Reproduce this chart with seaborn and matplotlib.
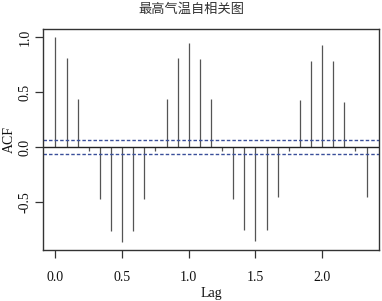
import numpy as np
import matplotlib
matplotlib.use("Agg")
import matplotlib.pyplot as plt
import seaborn as sns

# ACF of daily max temperature (monthly series, frequency 12)
LAG_MONTHS = list(range(29))
ACF_VALUES = [1.00, 0.81, 0.44, -0.03, -0.47, -0.76, -0.86, -0.76, -0.47, -0.03,
              0.44, 0.81, 0.945, 0.80, 0.44, -0.03, -0.47, -0.75, -0.85, -0.75,
              -0.455, -0.03, 0.43, 0.785, 0.93, 0.785, 0.415, -0.03, -0.455]
CI_BOUND = 0.066
X_TICKS = [0.0, 0.5, 1.0, 1.5, 2.0]
Y_TICKS = [-0.5, 0.0, 0.5, 1.0]
TITLE = "最高气温自相关图"

sns.set_theme(style="white")
plt.rcParams["font.family"] = ["Liberation Serif", "Noto Sans CJK SC", "DejaVu Sans"]

lags = np.array(LAG_MONTHS) / 12
acf = np.array(ACF_VALUES)

fig = plt.figure(figsize=(3.82, 3.01), dpi=100)
ax = fig.add_axes([43 / 382, 51 / 301, 336 / 382, 221 / 301])

ax.vlines(lags, 0, acf, color="#555555", linewidth=0.9)
ax.axhline(0, color="#222222", linewidth=1.0)
for b in (CI_BOUND, -CI_BOUND):
    ax.axhline(b, color="#3a4f9a", linewidth=1.0, linestyle=(0, (2.5, 1.5)))

span_x = lags.max() - lags.min()
ax.set_xlim(lags.min() - 0.04 * span_x, lags.max() + 0.04 * span_x)
span_y = acf.max() - acf.min()
ax.set_ylim(acf.min() - 0.04 * span_y, acf.max() + 0.04 * span_y)

ax.set_xticks(X_TICKS)
ax.set_xticklabels([f"{v:.1f}" for v in X_TICKS])
ax.set_yticks(Y_TICKS)
ax.set_yticklabels([f"{v:.1f}" for v in Y_TICKS], rotation=90, va="center")
ax.tick_params(axis="both", which="both", direction="out", length=6, width=0.9,
               color="#333333", labelsize=10, labelcolor="#111111",
               bottom=True, left=True)
ax.tick_params(axis="x", pad=9)
ax.tick_params(axis="y", pad=2)

for s in ax.spines.values():
    s.set_color("#333333")
    s.set_linewidth(1.0)

ax.set_xlabel("Lag", fontsize=10, color="#111111")
ax.set_ylabel("ACF", fontsize=10, color="#111111")
ax.xaxis.set_label_coords(0.5, -37 / 221)
ax.yaxis.set_label_coords(-27 / 336, 0.5)
fig.text(0.5, 0.968, TITLE, ha="center", va="center", fontsize=9.5,
         color="#333333", family=["Noto Sans CJK SC", "DejaVu Sans"])

fig.savefig("out.png", dpi=100)
